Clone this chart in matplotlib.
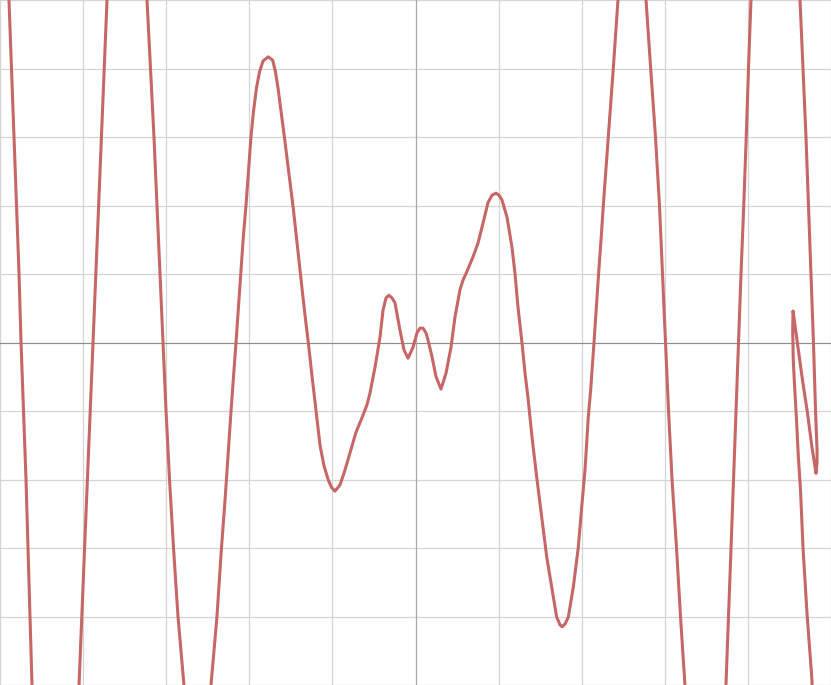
import numpy as np
import matplotlib
matplotlib.use("Agg")
import matplotlib.pyplot as plt

# curve samples (plot units, grid step = 1)
x_vals = [
    # left descending branch
    -4.904, -4.892, -4.862, -4.832, -4.801, -4.771, -4.747, -4.717, -4.687, -4.663, -4.639, -4.615, -4.603,
    # rising branch
    -4.061, -4.049, -4.016, -3.982, -3.948, -3.915, -3.881, -3.847, -3.813, -3.780, -3.746, -3.712, -3.700,
    # descending branch
    -3.243, -3.231, -3.189, -3.147, -3.111, -3.075, -3.039, -3.002, -2.960, -2.912, -2.858, -2.786, -2.762,
    # middle part
    -2.485, -2.461, -2.389, -2.335, -2.292, -2.252, -2.220, -2.160, -2.100, -2.072, -2.040, -2.012, -1.980,
    -1.949, -1.913, -1.877, -1.835, -1.771, -1.718, -1.685, -1.655, -1.619, -1.582, -1.546, -1.510, -1.471,
    -1.430, -1.390, -1.354, -1.318, -1.290, -1.249, -1.197, -1.149, -1.101, -1.049, -1.008, -0.969,
    -0.909, -0.848, -0.788, -0.716, -0.644, -0.584, -0.548, -0.487,
    -0.427, -0.391, -0.355, -0.319, -0.283, -0.247, -0.187, -0.138, -0.090, -0.030, 0.018, 0.054, 0.090,
    0.126, 0.150, 0.199, 0.247, 0.307, 0.367, 0.427, 0.475, 0.535, 0.572, 0.620, 0.692, 0.752, 0.812,
    0.872, 0.921, 0.969, 1.005, 1.041, 1.101, 1.161, 1.197, 1.233, 1.282, 1.318, 1.354, 1.402, 1.458,
    1.519, 1.579, 1.639, 1.699, 1.739, 1.763, 1.799, 1.839, 1.899, 1.959, 2.000, 2.040, 2.079, 2.108,
    2.148, 2.203, 2.235, 2.260, 2.320, 2.380, 2.437, 2.449,
    # descending branch
    2.762, 2.774, 2.830, 2.888, 2.936, 2.972, 3.008, 3.045, 3.087, 3.141, 3.189, 3.243, 3.255,
    # rising branch
    3.724, 3.736, 3.767, 3.797, 3.827, 3.857, 3.887, 3.917, 3.950, 3.980, 4.007, 4.037, 4.049,
    # right end, folds back on itself
    4.615, 4.627, 4.663, 4.699, 4.729, 4.759, 4.789, 4.814, 4.832, 4.832, 4.820, 4.771, 4.717, 4.657,
    4.603, 4.561, 4.543, 4.539, 4.546, 4.558, 4.587, 4.607, 4.633, 4.663, 4.711, 4.771, 4.783,
]
y_vals = [
    5.15, 5.00, 4.00, 3.00, 2.00, 1.00, 0.00, -1.00, -2.00, -3.00, -4.00, -5.00, -5.51,
    -5.51, -5.00, -4.00, -3.00, -2.00, -1.00, 0.00, 1.00, 2.00, 3.00, 4.00, 5.00, 5.44,
    5.44, 5.00, 4.00, 3.00, 2.00, 1.00, 0.00, -1.00, -2.00, -3.00, -4.00, -5.00, -5.51,
    -5.51, -5.00, -4.00, -3.00, -2.30, -1.57, -1.00, 0.00, 1.06, 1.54, 2.00, 2.47, 3.00,
    3.38, 3.72, 3.95, 4.11, 4.17, 4.12, 3.95, 3.72, 3.39, 3.04, 2.69, 2.34, 1.96,
    1.50, 1.06, 0.66, 0.28, 0.00, -0.45, -1.00, -1.50, -1.80, -2.01, -2.12, -2.17,
    -2.08, -1.86, -1.61, -1.31, -1.10, -0.91, -0.74, -0.36,
    0.08, 0.47, 0.65, 0.69, 0.65, 0.58, 0.18, -0.11, -0.23, -0.07, 0.14, 0.21, 0.21,
    0.14, 0.04, -0.21, -0.50, -0.68, -0.45, -0.07, 0.37, 0.77, 0.91, 1.04, 1.25, 1.45, 1.74,
    2.04, 2.15, 2.18, 2.15, 2.08, 1.83, 1.39, 1.01, 0.52, -0.01, -0.45, -0.81, -1.38, -1.96,
    -2.55, -3.13, -3.57, -4.01, -4.12, -4.15, -4.11, -4.01, -3.57, -2.99, -2.40, -1.86, -1.09, -0.69,
    0.00, 1.00, 1.54, 2.00, 3.00, 4.00, 5.00, 5.44,
    5.44, 5.00, 4.00, 3.00, 2.00, 1.00, 0.00, -1.00, -2.00, -3.00, -4.00, -5.00, -5.51,
    -5.51, -5.00, -4.00, -3.00, -2.00, -1.00, 0.00, 1.00, 2.00, 3.00, 4.00, 5.00, 5.44,
    5.44, 5.00, 4.00, 3.00, 2.00, 1.00, 0.00, -1.00, -1.57, -1.74, -1.91, -1.53, -1.03, -0.55,
    -0.07, 0.30, 0.46, 0.18, -0.26, -0.55, -1.18, -1.67, -2.15, -2.99, -3.95, -4.93, -5.51,
]

grid_ticks = list(range(-5, 6))

fig = plt.figure(figsize=(8.31, 6.85), dpi=100)
ax = fig.add_axes([0, 0, 1, 1])

ax.set_xlim(-5, 5)
ax.set_ylim(-5, 5)
ax.set_xticks(grid_ticks)
ax.set_yticks(grid_ticks)
ax.tick_params(length=0, labelbottom=False, labelleft=False)
ax.grid(True, color="#d4d4d4", linewidth=0.9)
for s in ax.spines.values():
    s.set_visible(False)

# axes through the origin
ax.axhline(0, color="#8c8c8c", linewidth=0.8)
ax.axvline(0, color="#a8a8a8", linewidth=0.8)

ax.plot(x_vals, y_vals, color="#c66666", linewidth=2.2, solid_joinstyle="round")

fig.savefig("out.png", dpi=100)
